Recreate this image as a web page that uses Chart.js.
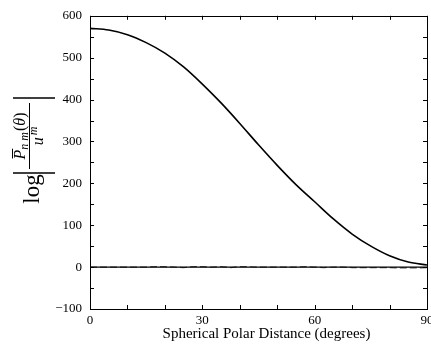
<!DOCTYPE html>
<html>
<head>
<meta charset="utf-8">
<script src="https://cdn.jsdelivr.net/npm/chart.js@4/dist/chart.umd.min.js"></script>
<style>
html,body{margin:0;padding:0;background:#fff;overflow:hidden;width:431px;height:351px;}
canvas{display:block;}
</style>
</head>
<body>
<canvas id="c" width="445" height="351"></canvas>
<script>
// Degrees (x) for the main curve
const curveDeg = [0,5,10,15,20,25,30,35,40,45,50,55,60,65,70,75,80,85,90];
const curveVal = [570,566,555,536,511,478,437,392,343,292,243,197,156,115,79,50,27,12,5];
// Near-zero residual series
const noiseDeg = [0,2.5,5,7.5,10,12.5,15,17.5,20,22.5,25,27.5,30,32.5,35,37.5,40,42.5,45,47.5,50,52.5,55,57.5,60,62.5,65,67.5,70,72.5,75,77.5,80,82.5,85,87.5,90];
const noiseVal = [0,0,0,0,0,0,0,1,1,0,-1,1,1,0,1,-1,1,1,0,0,0,0,0,1,0,-1,0,0,-1,-1,-1,-1,-1,-2,-2,-2,-1];
// Reference zero line
const zeroDeg = [0,90];
const zeroVal = [0,0];
// Tick labels
const xTickLabels = [0,30,60,90];
const yTicks = [-100,0,100,200,300,400,500,600];
const xTitle = 'Spherical Polar Distance (degrees)';

const FONT = "'Liberation Serif', 'DejaVu Serif', serif";

const pts = (xs, ys) => xs.map((x,i)=>({x:x,y:ys[i]}));

const framePlugin = {
  id:'frame',
  afterDraw(chart){
    const ctx = chart.ctx, a = chart.chartArea;
    const xs = chart.scales.x, ys = chart.scales.y;
    ctx.save();
    ctx.strokeStyle = '#000';
    ctx.lineWidth = 1;
    ctx.strokeRect(Math.round(a.left)+0.5, Math.round(a.top)+0.5, Math.round(a.right-a.left), Math.round(a.bottom-a.top));
    const L = 4;
    ctx.beginPath();
    for(let d=0; d<=90; d+=10){
      const px = Math.round(xs.getPixelForValue(d))+0.5;
      ctx.moveTo(px, a.bottom); ctx.lineTo(px, a.bottom-L);
      ctx.moveTo(px, a.top); ctx.lineTo(px, a.top+L);
    }
    for(let v=-100; v<=600; v+=50){
      const py = Math.round(ys.getPixelForValue(v))+0.5;
      ctx.moveTo(a.left, py); ctx.lineTo(a.left+L, py);
      ctx.moveTo(a.right, py); ctx.lineTo(a.right-L, py);
    }
    ctx.stroke();

    // X axis title
    ctx.fillStyle = '#000';
    ctx.font = "15px " + FONT;
    ctx.textAlign = 'center';
    ctx.textBaseline = 'alphabetic';
    ctx.fillText(xTitle, a.left + (a.right - a.left)/2 + 8, 338);

    // Y axis title: log | P̄_nm(θ) / u^m |
    ctx.translate(34, 151);
    ctx.rotate(-Math.PI/2);
    ctx.font = "23px " + FONT;
    ctx.textAlign = 'center';
    ctx.fillText('log', -38, 5);
    ctx.lineWidth = 1.5;
    ctx.beginPath();
    ctx.moveTo(-22,-21); ctx.lineTo(-22,21);
    ctx.moveTo(53,-21); ctx.lineTo(53,21);
    ctx.stroke();
    ctx.lineWidth = 1;
    ctx.beginPath();
    ctx.moveTo(-18,-4.5); ctx.lineTo(48,-4.5);
    ctx.stroke();
    // numerator
    ctx.textAlign = 'left';
    const fBig = "italic 16px " + FONT, fSmall = "italic 12px " + FONT, fUp = "16px " + FONT;
    ctx.font = fBig; const wP = ctx.measureText('P').width;
    ctx.font = fSmall; const wS = ctx.measureText('n m').width;
    ctx.font = fUp; const w1 = ctx.measureText('(').width;
    ctx.font = fBig; const wT = ctx.measureText('θ').width;
    ctx.font = fUp; const w2 = ctx.measureText(')').width;
    const total = wP + wS + 1 + w1 + wT + w2;
    let u = 15 - total/2;
    ctx.font = fBig; ctx.fillText('P', u, -9);
    ctx.beginPath(); ctx.moveTo(u+1, -21.5); ctx.lineTo(u+wP+1, -21.5); ctx.stroke();
    u += wP;
    ctx.font = fSmall; ctx.fillText('n m', u, -6); u += wS + 1;
    ctx.font = fUp; ctx.fillText('(', u, -9); u += w1;
    ctx.font = fBig; ctx.fillText('θ', u, -9); u += wT;
    ctx.font = fUp; ctx.fillText(')', u, -9);
    // denominator
    ctx.font = fBig; const wu = ctx.measureText('u').width;
    ctx.font = fSmall; const wm = ctx.measureText('m').width;
    let u2 = 15 - (wu + wm + 2)/2;
    ctx.font = fBig; ctx.fillText('u', u2, 9);
    ctx.font = fSmall; ctx.fillText('m', u2 + wu + 2, 3);
    ctx.restore();
  }
};

new Chart(document.getElementById('c'), {
  type:'line',
  data:{
    datasets:[
      {data: pts(zeroDeg, zeroVal), borderColor:'#000', borderWidth:1.2, pointRadius:0, tension:0},
      {data: pts(noiseDeg, noiseVal), borderColor:'#555', borderWidth:1.2, borderDash:[7,3], pointRadius:0, tension:0},
      {data: pts(curveDeg, curveVal), borderColor:'#000', borderWidth:1.6, pointRadius:0, cubicInterpolationMode:'monotone'}
    ]
  },
  options:{
    responsive:false,
    animation:false,
    layout:{padding:{top:12, right:18, left:0, bottom:0}},
    plugins:{legend:{display:false}, tooltip:{enabled:false}},
    scales:{
      x:{
        type:'linear', min:0, max:90,
        afterBuildTicks(s){ s.ticks = xTickLabels.map(v=>({value:v})); },
        afterFit(s){ s.height = 42; },
        grid:{display:false, drawTicks:false},
        border:{display:false},
        ticks:{color:'#000', font:{family:FONT, size:13}, padding:4, maxRotation:0, autoSkip:false},
        title:{display:false}
      },
      y:{
        type:'linear', min:-100, max:600,
        afterBuildTicks(s){ s.ticks = yTicks.map(v=>({value:v})); },
        afterFit(s){ s.width = 90; },
        grid:{display:false, drawTicks:false},
        border:{display:false},
        ticks:{color:'#000', font:{family:FONT, size:13}, padding:8, callback:v=>String(v).replace('-', '\u2212')}
      }
    }
  },
  plugins:[framePlugin]
});
</script>
</body>
</html>
